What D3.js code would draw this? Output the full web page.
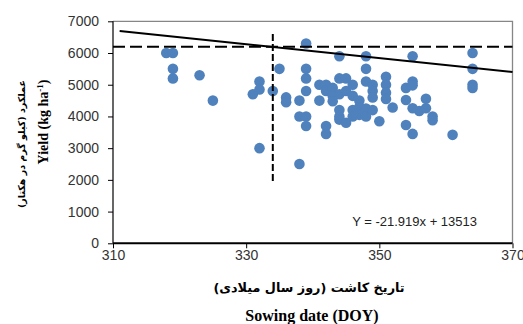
<!DOCTYPE html>
<html><head><meta charset="utf-8">
<script src="https://cdn.jsdelivr.net/npm/d3@7"></script>
<style>
html,body{margin:0;padding:0;background:#fff;}
svg{display:block;}
</style></head>
<body>
<svg id="chart" width="523" height="324"></svg>
<script>
// ---- data ----
const sowingDOY = [318,319,319,319,323,325,
  331,332,332,332,334,335,336,336,
  338,338,338,
  339,339,339,339,339,339,
  341,342,341,342,342,342,
  343,343,343,
  344,344,344,344,344,344,
  345,345,345,
  346,346,346,346,
  347,347,347,
  348,348,348,348,348,
  349,349,349,349,
  350,
  351,351,351,351,
  352,
  354,354,354,
  355,355,355,355,355,
  356,
  357,357,
  358,358,
  361,
  364,364,364,364];
const yieldKg = [6000,6000,5500,5200,5300,4500,
  4700,5100,4850,3000,4800,5500,4600,4450,
  4500,4000,2500,
  6300,5500,5200,4800,4000,3700,
  5000,5000,4500,4800,3700,3450,
  4900,4650,4480,
  5900,5200,4700,4200,4000,3900,
  5200,4800,3800,
  5000,4650,4200,4000,
  4500,4300,4050,
  5900,5500,5100,4250,4000,
  5000,4800,4600,4200,
  3850,
  5250,5000,4750,4550,
  4280,
  4900,4520,3730,
  5900,5100,4980,4260,3450,
  4170,
  4560,4260,
  4000,3880,
  3420,
  6000,5500,5000,4900];
const xTickValues = [310,330,350,370];
const yTickValues = [0,1000,2000,3000,4000,5000,6000,7000];
const xDomain = [310,370];
const yDomain = [0,7000];
const trendSlope = -21.919, trendIntercept = 13513;
const trendXRange = [311,370];
const targetYield = 6200;          // horizontal dashed line
const optimumDOY = 334;            // vertical dashed line
const optimumYRange = [1950,6600];
const equationLabel = "Y = -21.919x + 13513";
const xTitleFa = "تاریخ کاشت (روز سال میلادی)";
const xTitleEn = "Sowing date (DOY)";
const yTitleFa = "عملکرد (کیلو گرم در هکتار)";

// ---- drawing ----
const svg = d3.select("#chart");
const L = 113, R = 512.5, T = 21.3, B = 243.3;
const x = d3.scaleLinear().domain(xDomain).range([L, R]);
const y = d3.scaleLinear().domain(yDomain).range([B, T]);

// frame (top/right)
svg.append("path")
  .attr("d", `M${L},${T}H${R}V${B}`)
  .attr("fill","none").attr("stroke","#868686").attr("stroke-width",1.3);

// points
svg.append("g").selectAll("circle")
  .data(sowingDOY.map((d,i)=>[d, yieldKg[i]]))
  .join("circle")
  .attr("cx", d=>x(d[0])).attr("cy", d=>y(d[1])).attr("r",5.3)
  .attr("fill","#4f81bd");

// horizontal dashed line
svg.append("line")
  .attr("x1", x(xDomain[0])).attr("x2", x(xDomain[1]))
  .attr("y1", y(targetYield)).attr("y2", y(targetYield))
  .attr("stroke","#000").attr("stroke-width",2).attr("stroke-dasharray","12,5");

// vertical dashed line
svg.append("line")
  .attr("x1", x(optimumDOY)).attr("x2", x(optimumDOY))
  .attr("y1", y(optimumYRange[1])).attr("y2", y(optimumYRange[0]))
  .attr("stroke","#000").attr("stroke-width",2).attr("stroke-dasharray","7,3");

// trend line
svg.append("line")
  .attr("x1", x(trendXRange[0])).attr("y1", y(trendSlope*trendXRange[0]+trendIntercept))
  .attr("x2", x(trendXRange[1])).attr("y2", y(trendSlope*trendXRange[1]+trendIntercept))
  .attr("stroke","#000").attr("stroke-width",2);

// axes
const tickFont = "Liberation Sans, Arial, sans-serif";
const yAxis = svg.append("g").attr("transform",`translate(${L},0)`)
  .call(d3.axisLeft(y).tickValues(yTickValues).tickSize(5).tickPadding(9).tickFormat(d3.format("d")));
const xAxis = svg.append("g").attr("transform",`translate(0,${B})`)
  .call(d3.axisBottom(x).tickValues(xTickValues).tickSize(5).tickPadding(2).tickFormat(d3.format("d")));
[yAxis, xAxis].forEach(g=>{
  g.selectAll("text").attr("font-family",tickFont).attr("font-size",14).attr("fill","#333");
  g.selectAll(".tick line").attr("stroke","#000").attr("stroke-width",1);
});
yAxis.select(".domain").attr("stroke","#000").attr("stroke-width",1.2).attr("d",`M0,${B}V${T}`);
xAxis.select(".domain").attr("stroke","#000").attr("stroke-width",2).attr("d",`M${L},0H${R}`);

// equation
svg.append("text").attr("x",477).attr("y",225.5).attr("text-anchor","end")
  .attr("font-family",tickFont).attr("font-size",13).attr("fill","#222")
  .text(equationLabel);

// x titles
svg.append("text").attr("x",309).attr("y",292).attr("text-anchor","middle")
  .attr("direction","rtl").attr("font-family","DejaVu Sans, sans-serif").attr("font-weight","bold")
  .attr("font-size",12.8).attr("fill","#000").text(xTitleFa);
svg.append("text").attr("x",312).attr("y",321).attr("text-anchor","middle")
  .attr("font-family","Liberation Serif, Times New Roman, serif").attr("font-weight","bold")
  .attr("font-size",16).attr("fill","#000").text(xTitleEn);

// y titles
svg.append("text").attr("transform","translate(25,144) rotate(-90)").attr("text-anchor","middle")
  .attr("direction","rtl").attr("font-family","DejaVu Sans, sans-serif").attr("font-weight","bold")
  .attr("font-size",9.5).attr("fill","#000").text(yTitleFa);
const yt = svg.append("text").attr("transform","translate(48,122) rotate(-90)").attr("text-anchor","middle")
  .attr("font-family","Liberation Serif, Times New Roman, serif").attr("font-weight","bold")
  .attr("font-size",14).attr("fill","#000");
yt.append("tspan").text("Yield (kg ha");
yt.append("tspan").attr("dy",-5).attr("font-size",9).text("-1");
yt.append("tspan").attr("dy",5).text(")");
</script>
</body></html>
